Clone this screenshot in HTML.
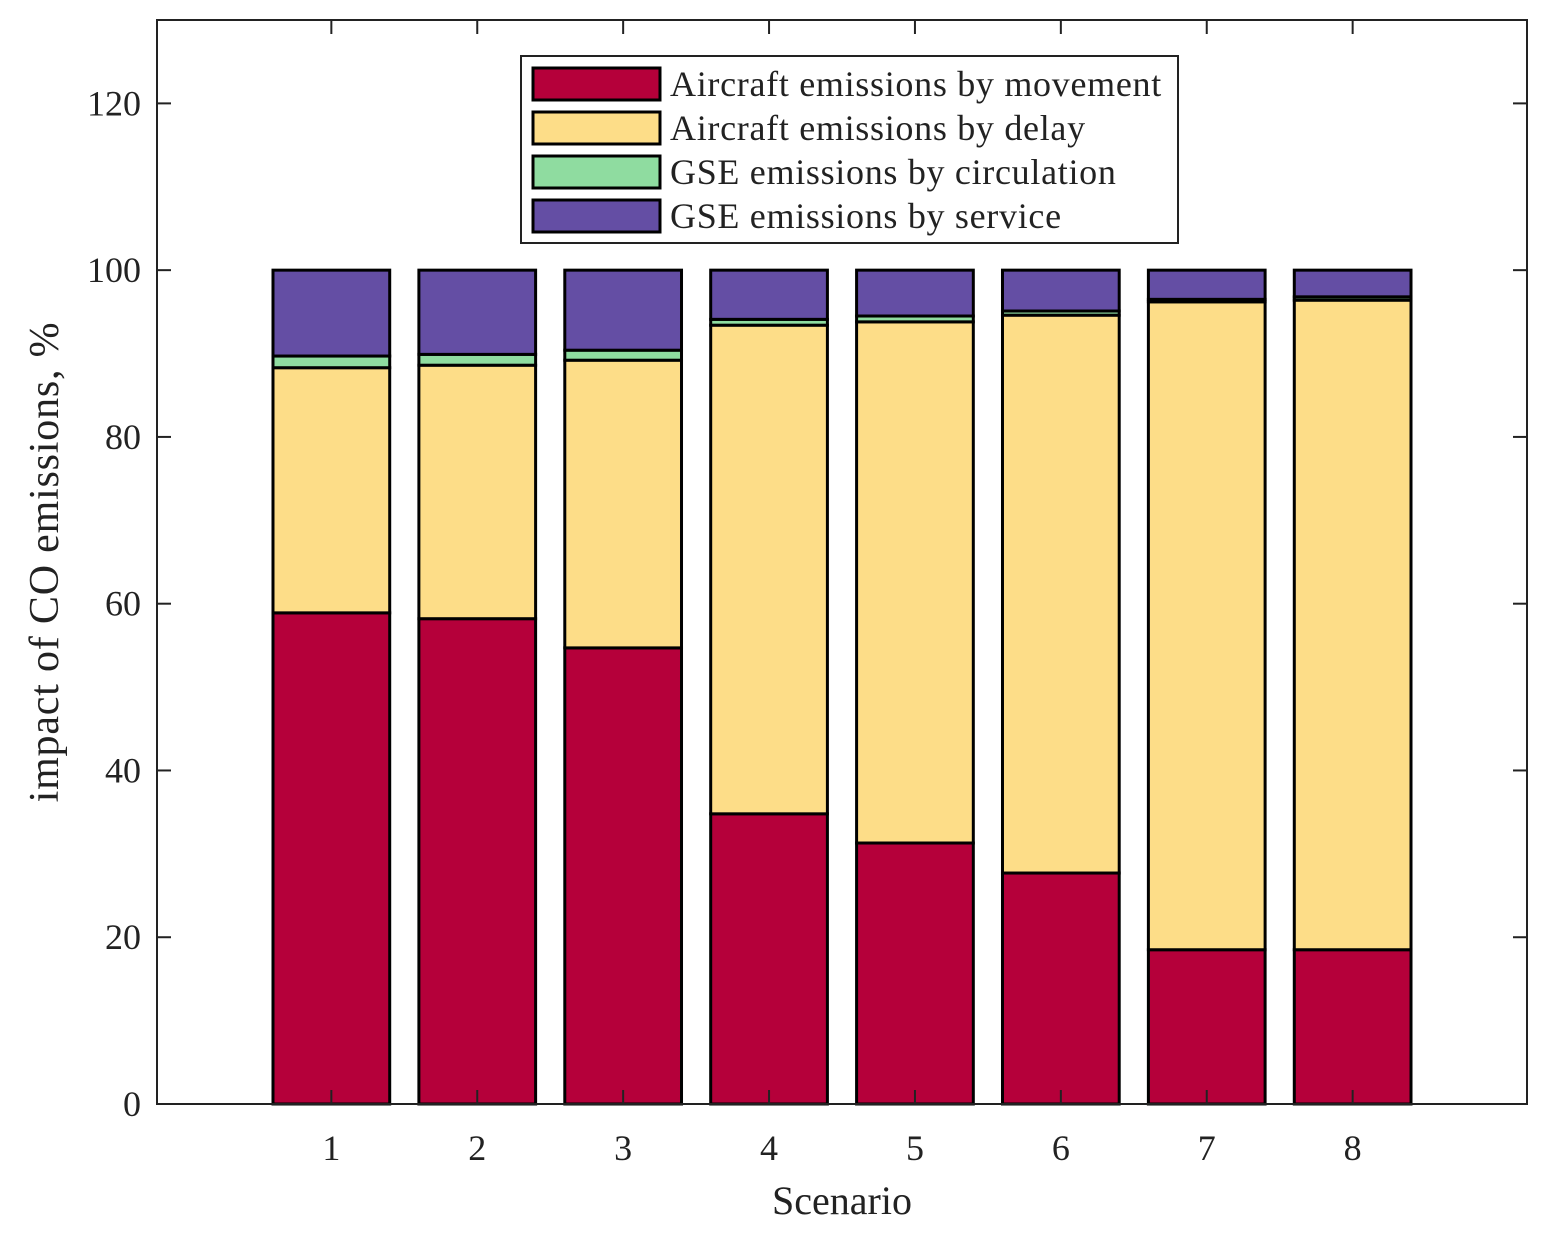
<!DOCTYPE html>
<html><head><meta charset="utf-8"><style>
html,body{margin:0;padding:0;background:#fff;}
svg{display:block;font-family:"Liberation Serif",serif;}
</style></head><body>
<svg id="chart" width="1550" height="1234" viewBox="0 0 1550 1234" xmlns="http://www.w3.org/2000/svg"></svg>
<script>
const categories = ["1","2","3","4","5","6","7","8"];
const movement = [58.9, 58.2, 54.7, 34.8, 31.3, 27.7, 18.5, 18.5];
const delay = [29.4, 30.4, 34.5, 58.6, 62.5, 66.9, 77.7, 77.9];
const circulation = [1.4, 1.3, 1.2, 0.7, 0.7, 0.5, 0.3, 0.4];
const service = [10.3, 10.1, 9.6, 5.9, 5.5, 4.9, 3.5, 3.2];
const yTicks = [0, 20, 40, 60, 80, 100, 120];
const seriesNames = ["Aircraft emissions by movement","Aircraft emissions by delay","GSE emissions by circulation","GSE emissions by service"];
const seriesColors = ["#b5003a","#fddd88","#8fdca0","#644ea4"];

const NS="http://www.w3.org/2000/svg";
const svg=document.getElementById('chart');
const L=157,R=1527,T=20,B=1104;
const yMax=130, xMin=1-1.195, xMax=8+1.195;
const y=v=>B-(v/yMax)*(B-T);
const x=i=>L+((i+1)-xMin)/(xMax-xMin)*(R-L);
const bw=0.8*(x(1)-x(0));
function el(tag,attrs,parent){const e=document.createElementNS(NS,tag);for(const k in attrs)e.setAttribute(k,attrs[k]);(parent||svg).appendChild(e);return e;}

const series=[movement,delay,circulation,service];
categories.forEach((c,i)=>{
  const g=el('g',{});
  
  
  let base=0;
  series.forEach((s,k)=>{
    const v=s[i];
    const r=el('rect',{x:x(i)-bw/2,y:y(base+v),width:bw,height:y(base)-y(base+v),fill:seriesColors[k],stroke:'#000','stroke-width':3},g);
    
    
    base+=v;
  });
});

const box=el('rect',{x:L,y:T,width:R-L,height:B-T,fill:'none',stroke:'#222','stroke-width':2});



yTicks.forEach(t=>{
  el('line',{x1:L,x2:L+14,y1:y(t),y2:y(t),stroke:'#222','stroke-width':2});
  el('line',{x1:R,x2:R-14,y1:y(t),y2:y(t),stroke:'#222','stroke-width':2});
  const tx=el('text',{x:L-16,y:y(t)+12,'text-anchor':'end','font-size':36,fill:'#222'});
  tx.textContent=t;
  
  
});
categories.forEach((c,i)=>{
  el('line',{x1:x(i),x2:x(i),y1:B,y2:B-14,stroke:'#222','stroke-width':2});
  el('line',{x1:x(i),x2:x(i),y1:T,y2:T+14,stroke:'#222','stroke-width':2});
  const tx=el('text',{x:x(i),y:B+56,'text-anchor':'middle','font-size':36,fill:'#222'});
  tx.textContent=c;
  
  
});
const xt=el('text',{x:(L+R)/2,y:1214,'text-anchor':'middle','font-size':40,fill:'#222'});
xt.textContent='Scenario';


const yt=el('text',{x:0,y:0,'text-anchor':'middle','font-size':42,'letter-spacing':'0.8',fill:'#222',transform:'translate(58,562) rotate(-90)'});
yt.textContent='impact of CO emissions, %';



const lg=el('g',{});


el('rect',{x:521,y:56,width:657,height:187,fill:'#fff',stroke:'#222','stroke-width':2},lg);
seriesNames.forEach((n,k)=>{
  const yy=68+k*44;
  el('rect',{x:533,y:yy,width:127,height:32,fill:seriesColors[k],stroke:'#000','stroke-width':3},lg);
  const tx=el('text',{x:670,y:yy+28,'font-size':36,'letter-spacing':'0.7',fill:'#222'},lg);
  tx.textContent=n;
  
  
});
</script>
</body></html>
